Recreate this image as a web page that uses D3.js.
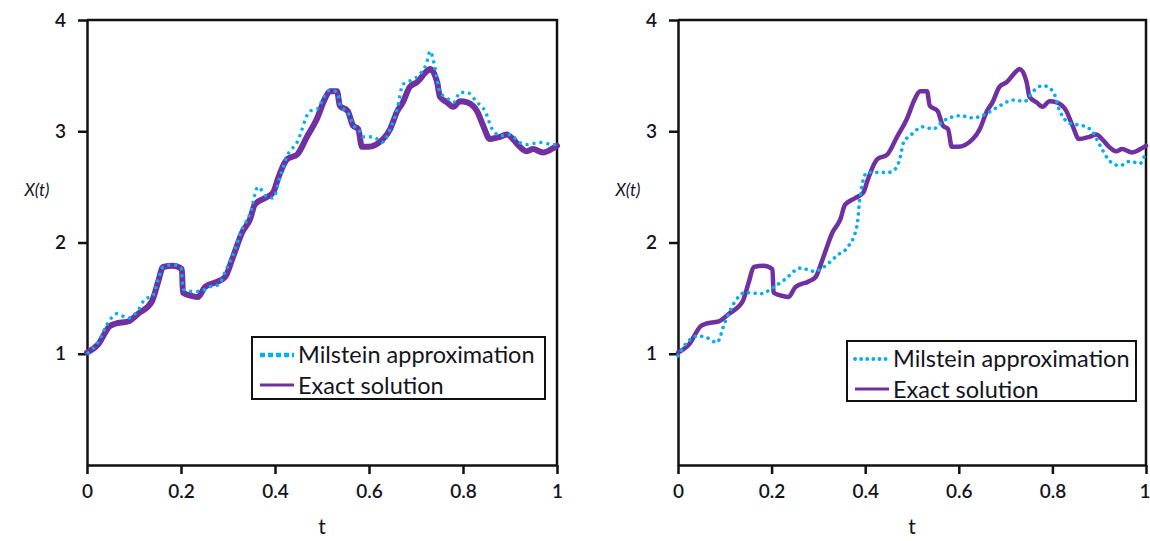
<!DOCTYPE html>
<html>
<head>
<meta charset="utf-8">
<script src="https://cdn.jsdelivr.net/npm/d3@7"></script>
<style>
  html, body { margin: 0; padding: 0; background: #fff; }
  svg { display: block; }
  text { font-family: "Lato", "Open Sans", sans-serif; fill: #14141e; }
</style>
</head>
<body>
<svg id="chart" width="1150" height="541"></svg>
<script>
// ---- data ----
const xTicks = [0, 0.2, 0.4, 0.6, 0.8, 1];
const xTickLabels = ["0", "0.2", "0.4", "0.6", "0.8", "1"];
const yTicks = [1, 2, 3, 4];
const yTickLabels = ["1", "2", "3", "4"];
const seriesNames = ["Milstein approximation", "Exact solution"];

// exact solution (same path in both panels)
const tExact = [0,0.023,0.049,0.06,0.087,0.109,0.138,0.151,0.162,0.183,0.202,0.204,0.223,0.236,0.251,0.279,0.294,0.309,0.33,0.347,0.357,0.379,0.396,0.406,0.421,0.426,0.447,0.468,0.489,0.506,0.517,0.532,0.538,0.555,0.566,0.577,0.585,0.598,0.63,0.645,0.66,0.672,0.687,0.702,0.723,0.73,0.745,0.751,0.766,0.779,0.794,0.809,0.83,0.843,0.857,0.879,0.894,0.906,0.921,0.936,0.949,0.97,0.996,1.0];
const xExact = [1.01,1.08,1.25,1.27,1.29,1.36,1.47,1.64,1.78,1.79,1.76,1.55,1.52,1.51,1.6,1.65,1.69,1.85,2.09,2.21,2.34,2.4,2.45,2.57,2.72,2.75,2.79,2.95,3.11,3.29,3.36,3.36,3.23,3.18,3.05,3.02,2.86,2.86,2.93,3.02,3.18,3.26,3.4,3.44,3.54,3.56,3.44,3.31,3.26,3.22,3.27,3.26,3.18,3.05,2.93,2.95,2.97,2.93,2.86,2.82,2.84,2.81,2.86,2.87];

// Milstein approximation, left panel (fine step)
const tMilLeft = [0,0.023,0.045,0.064,0.087,0.11,0.123,0.14,0.151,0.162,0.183,0.2,0.205,0.225,0.24,0.26,0.28,0.294,0.31,0.33,0.347,0.364,0.38,0.396,0.41,0.426,0.447,0.474,0.49,0.506,0.517,0.532,0.54,0.555,0.566,0.58,0.587,0.609,0.628,0.645,0.66,0.672,0.69,0.705,0.723,0.73,0.74,0.751,0.766,0.78,0.794,0.808,0.83,0.847,0.862,0.88,0.9,0.92,0.936,0.964,0.992,1.0];
const xMilLeft = [1.0,1.1,1.28,1.36,1.32,1.4,1.49,1.52,1.66,1.78,1.8,1.77,1.58,1.56,1.56,1.6,1.62,1.74,1.88,2.12,2.26,2.5,2.42,2.4,2.58,2.78,2.9,3.18,3.2,3.32,3.37,3.35,3.22,3.17,3.06,3.0,2.95,2.95,2.9,3.02,3.2,3.42,3.46,3.5,3.62,3.72,3.58,3.35,3.3,3.26,3.35,3.35,3.26,3.18,3.02,2.96,2.97,2.9,2.88,2.9,2.88,2.88];

// Milstein approximation, right panel (coarse step)
const tMilRight = [0,0.021,0.043,0.064,0.083,0.1,0.122,0.143,0.179,0.201,0.229,0.261,0.293,0.308,0.342,0.363,0.382,0.389,0.404,0.421,0.449,0.464,0.474,0.482,0.496,0.524,0.545,0.566,0.603,0.63,0.66,0.688,0.716,0.741,0.759,0.78,0.801,0.816,0.838,0.865,0.885,0.902,0.923,0.944,0.966,0.987,1.0];
const xMilRight = [0.98,1.11,1.16,1.14,1.10,1.28,1.47,1.55,1.54,1.59,1.67,1.77,1.74,1.77,1.89,1.96,2.14,2.41,2.63,2.63,2.63,2.66,2.75,2.9,2.96,3.04,3.02,3.09,3.14,3.12,3.16,3.23,3.28,3.27,3.36,3.41,3.36,3.18,3.07,3.05,3.0,2.87,2.73,2.69,2.73,2.71,2.82];

const colExact = "#7030a0";
const colMil = "#00b0f0";

const svg = d3.select("#chart");
svg.append("rect").attr("width", 1150).attr("height", 541).attr("fill", "#fff");

function panel(cfg) {
  const x = d3.scaleLinear().domain([0, 1]).range([cfg.x0, cfg.x1]);
  const y = d3.scaleLinear().domain([0, 4]).range([465, 20]);
  const g = svg.append("g");

  // frame: top and right border
  g.append("path")
    .attr("d", `M${x(0)},${y(4)}H${x(1)}V${y(0)}`)
    .attr("fill", "none").attr("stroke", "#111").attr("stroke-width", 2.5);

  const ax = g.append("g").attr("transform", `translate(0,${y(0)})`)
    .call(d3.axisBottom(x).tickValues(xTicks).tickFormat((d, i) => xTickLabels[i])
      .tickSize(9).tickSizeOuter(0).tickPadding(11));
  const ay = g.append("g").attr("transform", `translate(${x(0)},0)`)
    .call(d3.axisLeft(y).tickValues(yTicks).tickFormat((d, i) => yTickLabels[i])
      .tickSize(9).tickSizeOuter(0).tickPadding(12));
  [ax, ay].forEach(a => {
    a.select(".domain").attr("stroke", "#111").attr("stroke-width", 2.5);
    a.selectAll(".tick line").attr("stroke", "#111").attr("stroke-width", 2.5);
    a.selectAll(".tick text").attr("font-size", 19).attr("font-family", "Lato")
      .attr("fill", "#14141e").attr("font-weight", 600);
  });
  if (cfg.clampLast) {
    ax.selectAll(".tick text").filter((d, i) => i === xTicks.length - 1)
      .attr("text-anchor", "end").attr("dx", 4);
  }

  // axis titles
  g.append("text").attr("x", (cfg.x0 + cfg.x1) / 2).attr("y", 534)
    .attr("text-anchor", "middle").attr("font-size", 21).text("t");
  g.append("text").attr("x", cfg.x0 - 50).attr("y", 196)
    .attr("text-anchor", "middle").attr("font-size", 17).attr("font-style", "italic").text("X(t)");

  const line = d3.line().x(d => x(d[0])).y(d => y(d[1])).curve(d3.curveMonotoneX);
  const exact = d3.zip(tExact, xExact);
  const mil = d3.zip(cfg.tMil, cfg.xMil);

  g.append("path").datum(exact).attr("d", line)
    .attr("fill", "none").attr("stroke", colExact).attr("stroke-width", cfg.exactW)
    .attr("stroke-linejoin", "round").attr("stroke-linecap", "round");
  g.append("path").datum(mil).attr("d", line)
    .attr("fill", "none").attr("stroke", colMil).attr("stroke-width", cfg.milW)
    .attr("stroke-dasharray", cfg.milDash).attr("stroke-linecap", cfg.milCap);

  // legend
  const L = cfg.legend;
  const lg = g.append("g");
  lg.append("rect").attr("x", L.x).attr("y", L.y).attr("width", L.w).attr("height", L.h)
    .attr("fill", "#fff").attr("stroke", "#111").attr("stroke-width", 2);
  lg.append("line").attr("x1", L.x + 8).attr("x2", L.x + 42)
    .attr("y1", L.y + 18).attr("y2", L.y + 18)
    .attr("stroke", colMil).attr("stroke-width", L.dashW)
    .attr("stroke-dasharray", L.dash).attr("stroke-linecap", cfg.milCap);
  lg.append("line").attr("x1", L.x + 8).attr("x2", L.x + 42)
    .attr("y1", L.y + 48).attr("y2", L.y + 48)
    .attr("stroke", colExact).attr("stroke-width", 3);
  lg.append("text").attr("x", L.x + 46).attr("y", L.y + 26).attr("font-size", 23.5).text(seriesNames[0]);
  lg.append("text").attr("x", L.x + 46).attr("y", L.y + 57).attr("font-size", 23.5).text(seriesNames[1]);
}

panel({ x0: 87, x1: 557, tMil: tMilLeft, xMil: xMilLeft, exactW: 6, milW: 3.2,
  milDash: "3,4", milCap: "butt", clampLast: false,
  legend: { x: 252, y: 337, w: 293, h: 62, dash: "5,3", dashW: 4.5 } });
panel({ x0: 678, x1: 1146, tMil: tMilRight, xMil: xMilRight, exactW: 4.5, milW: 3.6,
  milDash: "0.1,6.5", milCap: "round", clampLast: true,
  legend: { x: 847, y: 341, w: 289, h: 60, dash: "0.1,6", dashW: 3.8 } });
</script>
</body>
</html>
